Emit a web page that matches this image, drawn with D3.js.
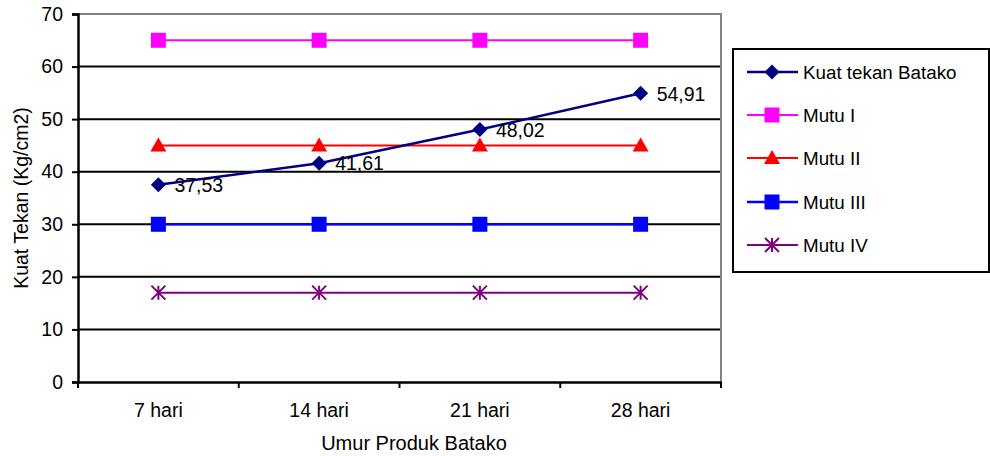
<!DOCTYPE html>
<html><head><meta charset="utf-8">
<script src="https://cdn.jsdelivr.net/npm/d3@7"></script>
<style>
body{margin:0;background:#fff;}
text{font-family:"Liberation Sans",Arial,sans-serif;fill:#000;}
</style></head>
<body><svg id="c" width="990" height="456"></svg>
<script>
const categories = ["7 hari","14 hari","21 hari","28 hari"];
const kuatTekan = [37.53, 41.61, 48.02, 54.91];
const kuatLabels = ["37,53","41,61","48,02","54,91"];
const mutuI = [65, 65, 65, 65];
const mutuII = [45, 45, 45, 45];
const mutuIII = [30, 30, 30, 30];
const mutuIV = [17, 17, 17, 17];
const yTicks = [0,10,20,30,40,50,60,70];
const seriesNames = ["Kuat tekan Batako","Mutu I","Mutu II","Mutu III","Mutu IV"];

const series = [
  {name: seriesNames[0], values: kuatTekan, color: "#000080", marker: "diamond", width: 2.5},
  {name: seriesNames[1], values: mutuI, color: "#FF00FF", marker: "square", width: 2},
  {name: seriesNames[2], values: mutuII, color: "#FF0000", marker: "triangle", width: 2},
  {name: seriesNames[3], values: mutuIII, color: "#0000FF", marker: "square", width: 2.5},
  {name: seriesNames[4], values: mutuIV, color: "#800080", marker: "star", width: 2}
];

const svg = d3.select("#c");
const L = 78, R = 721, T = 14, B = 382;
const x = d3.scaleBand().domain(categories).range([L, R]);
const y = d3.scaleLinear().domain([0, 70]).range([B, T]);

// gridlines
svg.append("g").selectAll("line").data(yTicks.filter(d => d > 0 && d < 70)).join("line")
  .attr("x1", L).attr("x2", R).attr("y1", d => y(d)).attr("y2", d => y(d))
  .attr("stroke", "#000").attr("stroke-width", 2);
// top & right border (gray)
svg.append("path").attr("d", `M${L},${y(70)}H${R}V${B}`).attr("fill", "none")
  .attr("stroke", "#808080").attr("stroke-width", 2);

// y axis
const yAxis = d3.axisLeft(y).tickValues(yTicks).tickSize(6).tickPadding(9);
const gy = svg.append("g").attr("transform", `translate(${L},0)`).call(yAxis);
gy.select(".domain").attr("stroke", "#000").attr("stroke-width", 2.5);
gy.selectAll(".tick line").attr("stroke", "#000").attr("stroke-width", 2);
gy.selectAll(".tick text").style("font-size", "19.5px").attr("font-family", null);

// x axis
const xAxis = d3.axisBottom(x).tickSize(0).tickPadding(21);
const gx = svg.append("g").attr("transform", `translate(0,${B})`).call(xAxis);
gx.select(".domain").attr("stroke", "#000").attr("stroke-width", 2.5);
gx.selectAll(".tick text").style("font-size", "19.5px").attr("font-family", null);
// category boundary ticks
const bounds = categories.map(c => x(c)).concat([x(categories[categories.length-1]) + x.bandwidth()]);
gx.append("g").selectAll("line").data(bounds).join("line")
  .attr("x1", d => d).attr("x2", d => d).attr("y1", 0).attr("y2", 6)
  .attr("stroke", "#000").attr("stroke-width", 2);

// axis titles
svg.append("text").attr("x", 414).attr("y", 450).attr("text-anchor", "middle")
  .style("font-size", "20px").text("Umur Produk Batako");
svg.append("text").attr("transform", `translate(28,${(T + B) / 2}) rotate(-90)`)
  .attr("text-anchor", "middle").style("font-size", "19.5px").text("Kuat Tekan (Kg/cm2)");

function drawMarker(g, type, color, cx, cy) {
  if (type === "diamond") {
    g.append("path").attr("d", `M${cx},${cy-7.5}L${cx+7.5},${cy}L${cx},${cy+7.5}L${cx-7.5},${cy}Z`).attr("fill", color);
  } else if (type === "square") {
    g.append("rect").attr("x", cx-7.5).attr("y", cy-7.5).attr("width", 15).attr("height", 15).attr("fill", color);
  } else if (type === "triangle") {
    g.append("path").attr("d", `M${cx},${cy-8}L${cx+8},${cy+6}L${cx-8},${cy+6}Z`).attr("fill", color);
  } else if (type === "star") {
    const s = 7;
    g.append("path").attr("d", `M${cx-s},${cy-s}L${cx+s},${cy+s}M${cx+s},${cy-s}L${cx-s},${cy+s}M${cx},${cy-s}V${cy+s}`)
      .attr("stroke", color).attr("stroke-width", 2).attr("fill", "none");
  }
}

const cx = d => x(d) + x.bandwidth() / 2;
const line = d3.line().x((d, i) => cx(categories[i])).y(d => y(d));

const order = [1, 2, 3, 4, 0];
order.forEach(si => {
  const s = series[si];
  const g = svg.append("g");
  g.append("path").datum(s.values).attr("d", line).attr("fill", "none")
    .attr("stroke", s.color).attr("stroke-width", s.width);
  s.values.forEach((v, i) => drawMarker(g, s.marker, s.color, cx(categories[i]), y(v)));
});

// data labels
svg.append("g").selectAll("text").data(kuatTekan).join("text")
  .attr("x", (d, i) => cx(categories[i]) + 16).attr("y", d => y(d))
  .attr("dy", "0.37em").style("font-size", "19.5px")
  .text((d, i) => kuatLabels[i]);

// legend
const lg = svg.append("g");
lg.append("rect").attr("x", 733).attr("y", 49).attr("width", 256).attr("height", 223)
  .attr("fill", "#fff").attr("stroke", "#000").attr("stroke-width", 2);
const rowY = [72, 115, 158, 202, 245];
series.forEach((s, i) => {
  const ry = rowY[i];
  lg.append("line").attr("x1", 747).attr("x2", 798).attr("y1", ry).attr("y2", ry)
    .attr("stroke", s.color).attr("stroke-width", s.width);
  drawMarker(lg, s.marker, s.color, 772, ry);
  lg.append("text").attr("x", 803).attr("y", ry).attr("dy", "0.36em")
    .style("font-size", "18.8px").text(s.name);
});
</script></body></html>
